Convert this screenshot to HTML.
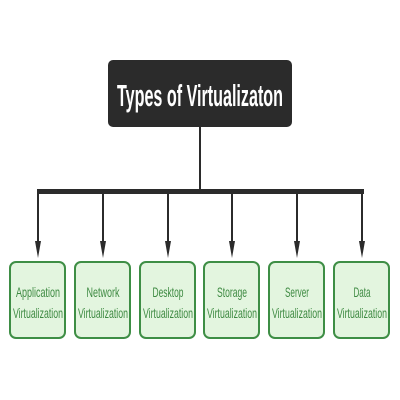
<!DOCTYPE html>
<html><head><style>
html,body{margin:0;padding:0;background:#fff;width:400px;height:400px;overflow:hidden}
</style></head><body>
<svg width="400" height="400" style="position:absolute;left:0;top:0">
<rect x="108" y="60" width="184" height="67" rx="5" fill="#2b2b2b"/>
<text x="200" y="106" text-anchor="middle" fill="#fff" font-family="Liberation Sans, sans-serif" font-weight="bold" font-size="31" textLength="166" lengthAdjust="spacingAndGlyphs">Types of Virtualizaton</text>
<line x1="200" y1="126" x2="200" y2="190" stroke="#2b2b2b" stroke-width="2"/>
<rect x="37" y="189" width="327" height="5" fill="#2b2b2b"/>
<g stroke="#2b2b2b" stroke-width="2">
<line x1="38" y1="190" x2="38" y2="245"/><line x1="103" y1="190" x2="103" y2="245"/>
<line x1="168" y1="190" x2="168" y2="245"/><line x1="232" y1="190" x2="232" y2="245"/>
<line x1="297" y1="190" x2="297" y2="245"/><line x1="362" y1="190" x2="362" y2="245"/>
</g>
<g fill="#2b2b2b">
<polygon points="35,241 41,241 38,258"/><polygon points="100,241 106,241 103,258"/>
<polygon points="165,241 171,241 168,258"/><polygon points="229,241 235,241 232,258"/>
<polygon points="294,241 300,241 297,258"/><polygon points="359,241 365,241 362,258"/>
</g>
<g fill="#e3f5df" stroke="#3e8e45" stroke-width="2">
<rect x="10" y="262" width="55" height="76" rx="6"/>
<rect x="75" y="262" width="55" height="76" rx="6"/>
<rect x="140" y="262" width="55" height="76" rx="6"/>
<rect x="204" y="262" width="55" height="76" rx="6"/>
<rect x="269" y="262" width="55" height="76" rx="6"/>
<rect x="334" y="262" width="55" height="76" rx="6"/>
</g>
<g fill="#3e8a42" font-family="Liberation Sans, sans-serif" font-size="14" text-anchor="middle">
<text x="38" y="297" textLength="44" lengthAdjust="spacingAndGlyphs">Application</text>
<text x="103" y="297" textLength="33" lengthAdjust="spacingAndGlyphs">Network</text>
<text x="168" y="297" textLength="31" lengthAdjust="spacingAndGlyphs">Desktop</text>
<text x="232" y="297" textLength="30" lengthAdjust="spacingAndGlyphs">Storage</text>
<text x="297" y="297" textLength="24" lengthAdjust="spacingAndGlyphs">Server</text>
<text x="362" y="297" textLength="17" lengthAdjust="spacingAndGlyphs">Data</text>
<text x="38" y="318" textLength="50" lengthAdjust="spacingAndGlyphs">Virtualization</text>
<text x="103" y="318" textLength="50" lengthAdjust="spacingAndGlyphs">Virtualization</text>
<text x="168" y="318" textLength="50" lengthAdjust="spacingAndGlyphs">Virtualization</text>
<text x="232" y="318" textLength="50" lengthAdjust="spacingAndGlyphs">Virtualization</text>
<text x="297" y="318" textLength="50" lengthAdjust="spacingAndGlyphs">Virtualization</text>
<text x="362" y="318" textLength="50" lengthAdjust="spacingAndGlyphs">Virtualization</text>
</g>
</svg>
</body></html>
